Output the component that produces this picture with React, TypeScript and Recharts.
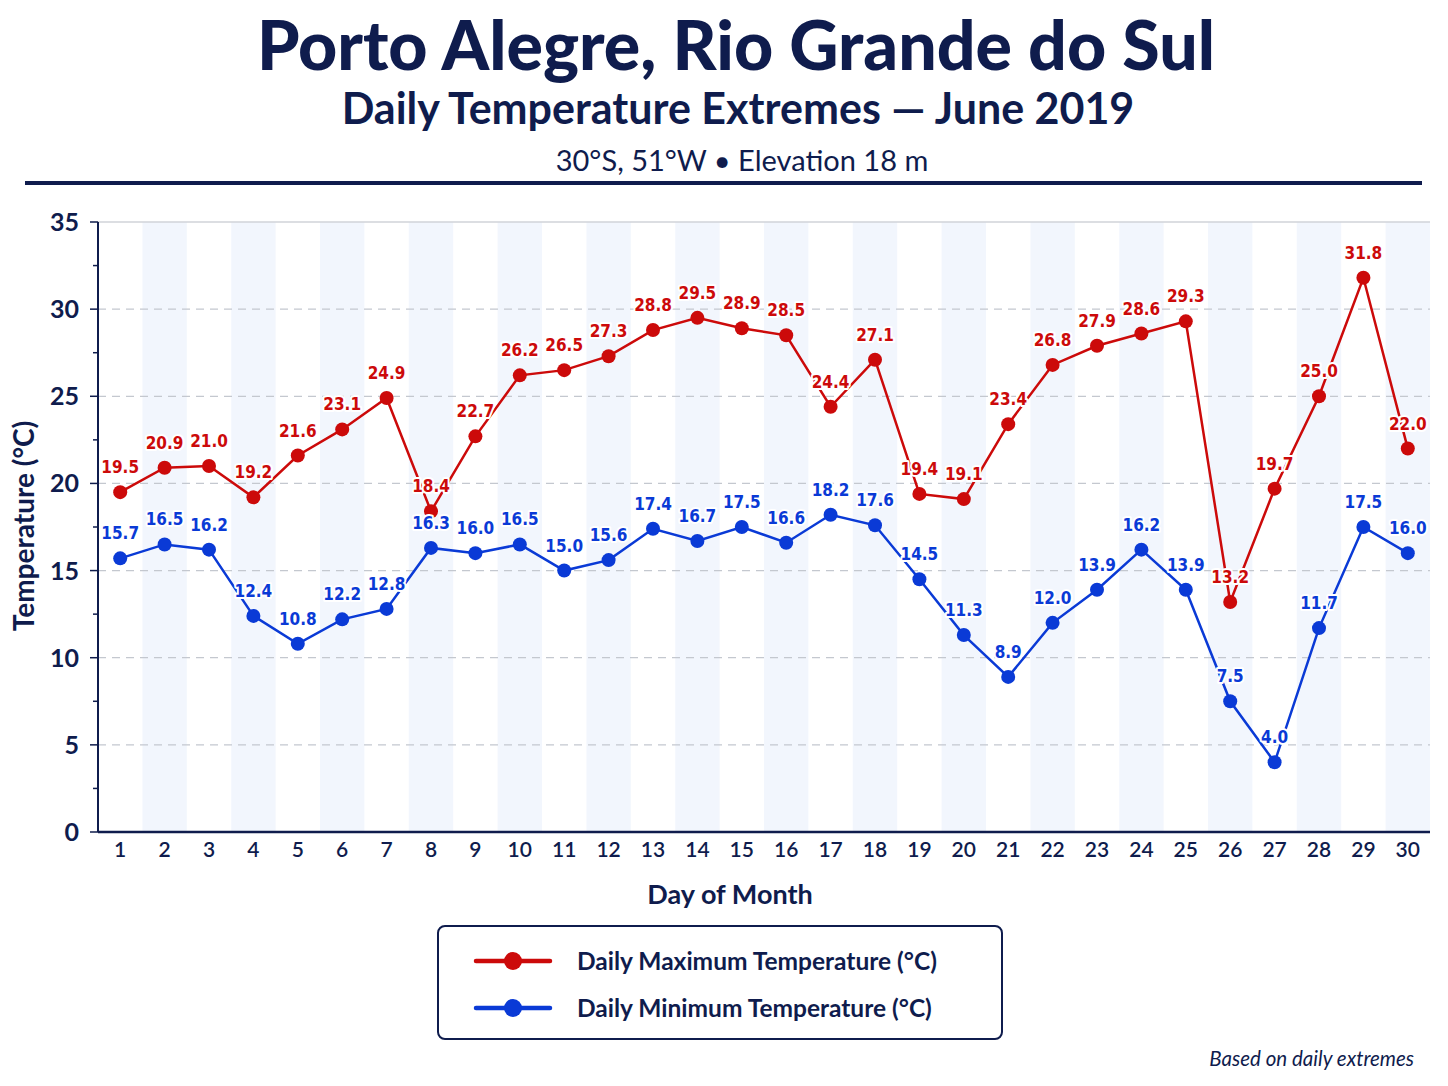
import React from "react";
import {
  LineChart,
  Line,
  XAxis,
  YAxis,
  ReferenceArea,
  ReferenceLine,
  LabelList,
  Legend,
} from "recharts";

const days = [1, 2, 3, 4, 5, 6, 7, 8, 9, 10, 11, 12, 13, 14, 15, 16, 17, 18, 19, 20, 21, 22, 23, 24, 25, 26, 27, 28, 29, 30];
const maxTemps = [19.5, 20.9, 21.0, 19.2, 21.6, 23.1, 24.9, 18.4, 22.7, 26.2, 26.5, 27.3, 28.8, 29.5, 28.9, 28.5, 24.4, 27.1, 19.4, 19.1, 23.4, 26.8, 27.9, 28.6, 29.3, 13.2, 19.7, 25.0, 31.8, 22.0];
const minTemps = [15.7, 16.5, 16.2, 12.4, 10.8, 12.2, 12.8, 16.3, 16.0, 16.5, 15.0, 15.6, 17.4, 16.7, 17.5, 16.6, 18.2, 17.6, 14.5, 11.3, 8.9, 12.0, 13.9, 16.2, 13.9, 7.5, 4.0, 11.7, 17.5, 16.0];
const yTicks = [0, 2.5, 5, 7.5, 10, 12.5, 15, 17.5, 20, 22.5, 25, 27.5, 30, 32.5, 35];
const gridValues = [5, 10, 15, 20, 25, 30];
const shadedDays = days.filter((d) => d % 2 === 0);

const data = days.map((d, i) => ({ day: d, max: maxTemps[i], min: minTemps[i] }));

const NAVY = "#0f1c4d";
const RED = "#cc0a0a";
const BLUE = "#0a3ad6";
const FONT = "Lato, 'Open Sans', sans-serif";
const NUM_FONT = "'DejaVu Sans Condensed', 'Liberation Sans Narrow', Lato, sans-serif";
const LEGEND_H = 115;

const YTick = (props: any) => {
  const { x, y, payload } = props;
  const v = payload.value;
  const major = v % 5 === 0;
  const axisX = x + 19;
  return (
    <g>
      <line x1={axisX - (major ? 8 : 5)} x2={axisX} y1={y} y2={y} stroke={NAVY} strokeWidth={1.5} />
      {major && (
        <text x={x} y={y} dy={9} textAnchor="end" fill={NAVY} fontSize={25} fontWeight={700} fontFamily={FONT}>
          {v}
        </text>
      )}
    </g>
  );
};

const XTick = (props: any) => {
  const { x, y, payload } = props;
  return (
    <text x={x} y={y} dy={17} textAnchor="middle" fill={NAVY} fontSize={21} fontWeight={600} fontFamily={FONT}>
      {payload.value}
    </text>
  );
};

const makeLabel = (color: string) => (props: any) => {
  const { x, y, value } = props;
  return (
    <text
      x={x}
      y={y - 19}
      textAnchor="middle"
      fill={color}
      fontSize={17}
      fontWeight={700}
      fontFamily={NUM_FONT}
      stroke="#ffffff"
      strokeWidth={4}
      strokeLinejoin="round"
      paintOrder="stroke"
    >
      {Number(value).toFixed(1)}
    </text>
  );
};

const renderLegend = (props: any) => {
  const { payload } = props;
  return (
    <div
      style={{
        width: 566,
        height: LEGEND_H,
        border: `2px solid ${NAVY}`,
        borderRadius: 8,
        boxSizing: "border-box",
        background: "#fff",
        paddingTop: 10,
        paddingLeft: 34,
      }}
    >
      {(payload || []).map((p: any, i: number) => (
        <div key={i} style={{ display: "flex", alignItems: "center", height: 47 }}>
          <svg width={80} height={22} style={{ marginRight: 24 }}>
            <line x1={3} x2={77} y1={11} y2={11} stroke={p.color} strokeWidth={4.5} strokeLinecap="round" />
            <circle cx={40} cy={11} r={9} fill={p.color} />
          </svg>
          <span style={{ fontFamily: FONT, fontSize: 24.5, fontWeight: 700, color: NAVY }}>{p.value}</span>
        </div>
      ))}
    </div>
  );
};

export default function App() {
  return (
    <div style={{ position: "absolute", left: 0, top: 0, width: 1448, height: 1086, background: "#fff", overflow: "hidden" }}>
      <div style={{ position: "absolute", top: 4, left: 12, width: 1448, textAlign: "center", fontFamily: FONT, fontWeight: 900, fontSize: 68, color: NAVY, lineHeight: "80px" }}>
        Porto Alegre, Rio Grande do Sul
      </div>
      <div style={{ position: "absolute", top: 82, left: 14, width: 1448, textAlign: "center", fontFamily: FONT, fontWeight: 700, fontSize: 43, color: NAVY, lineHeight: "52px" }}>
        Daily Temperature Extremes — June 2019
      </div>
      <div style={{ position: "absolute", top: 142, left: 18, width: 1448, textAlign: "center", fontFamily: FONT, fontWeight: 400, fontSize: 29, color: NAVY, lineHeight: "36px" }}>
        30°S, 51°W • Elevation 18 m
      </div>
      <div style={{ position: "absolute", top: 181, left: 25, width: 1397, height: 4, background: NAVY }} />
      <div
        style={{
          position: "absolute",
          left: 23,
          top: 526,
          transform: "translate(-50%, -50%) rotate(-90deg)",
          whiteSpace: "nowrap",
          fontFamily: FONT,
          fontWeight: 700,
          fontSize: 28,
          color: NAVY,
        }}
      >
        Temperature (°C)
      </div>
      <div style={{ position: "absolute", top: 876, left: 0, width: 1460, textAlign: "center", fontFamily: FONT, fontWeight: 700, fontSize: 27, color: NAVY, lineHeight: "36px" }}>
        Day of Month
      </div>
      <div style={{ position: "absolute", top: 1044, right: 34, fontFamily: FONT, fontStyle: "italic", fontSize: 20.5, color: NAVY, lineHeight: "28px" }}>
        Based on daily extremes
      </div>
      <div style={{ position: "absolute", left: 0, top: 0 }}>
        <LineChart width={1448} height={1086} data={data} margin={{ top: 222, right: 18, bottom: 214 - LEGEND_H, left: 0 }}>
          {shadedDays.map((d) => (
            <ReferenceArea key={d} x1={d - 0.5} x2={d + 0.5} y1={0} y2={35} fill="#eef3fc" fillOpacity={0.75} stroke="none" ifOverflow="hidden" />
          ))}
          {gridValues.map((v) => (
            <ReferenceLine key={v} y={v} stroke="#c4c8cf" strokeDasharray="8 6" strokeWidth={1.2} />
          ))}
          <ReferenceLine y={35} stroke="#d0d3d8" strokeWidth={1.5} />
          <XAxis
            dataKey="day"
            type="number"
            domain={[0.5, 30.5]}
            ticks={days}
            interval={0}
            tick={<XTick />}
            tickLine={false}
            axisLine={{ stroke: NAVY, strokeWidth: 2.5 }}
            height={40}
            allowDataOverflow
          />
          <YAxis
            type="number"
            domain={[0, 35]}
            ticks={yTicks}
            interval={0}
            tick={<YTick />}
            tickLine={false}
            tickSize={8}
            tickMargin={11}
            axisLine={{ stroke: NAVY, strokeWidth: 2 }}
            width={98}
          />
          <Legend
            content={renderLegend}
            wrapperStyle={{ position: "absolute", left: 437, top: 925, width: 566, height: LEGEND_H }}
          />
          <Line
            type="linear"
            dataKey="max"
            name="Daily Maximum Temperature (°C)"
            stroke={RED}
            strokeWidth={2.5}
            dot={{ r: 7, fill: RED, stroke: RED, strokeWidth: 0 }}
            activeDot={false}
            isAnimationActive={false}
          >
            <LabelList dataKey="max" content={makeLabel(RED)} />
          </Line>
          <Line
            type="linear"
            dataKey="min"
            name="Daily Minimum Temperature (°C)"
            stroke={BLUE}
            strokeWidth={2.5}
            dot={{ r: 7, fill: BLUE, stroke: BLUE, strokeWidth: 0 }}
            activeDot={false}
            isAnimationActive={false}
          >
            <LabelList dataKey="min" content={makeLabel(BLUE)} />
          </Line>
        </LineChart>
      </div>
    </div>
  );
}
